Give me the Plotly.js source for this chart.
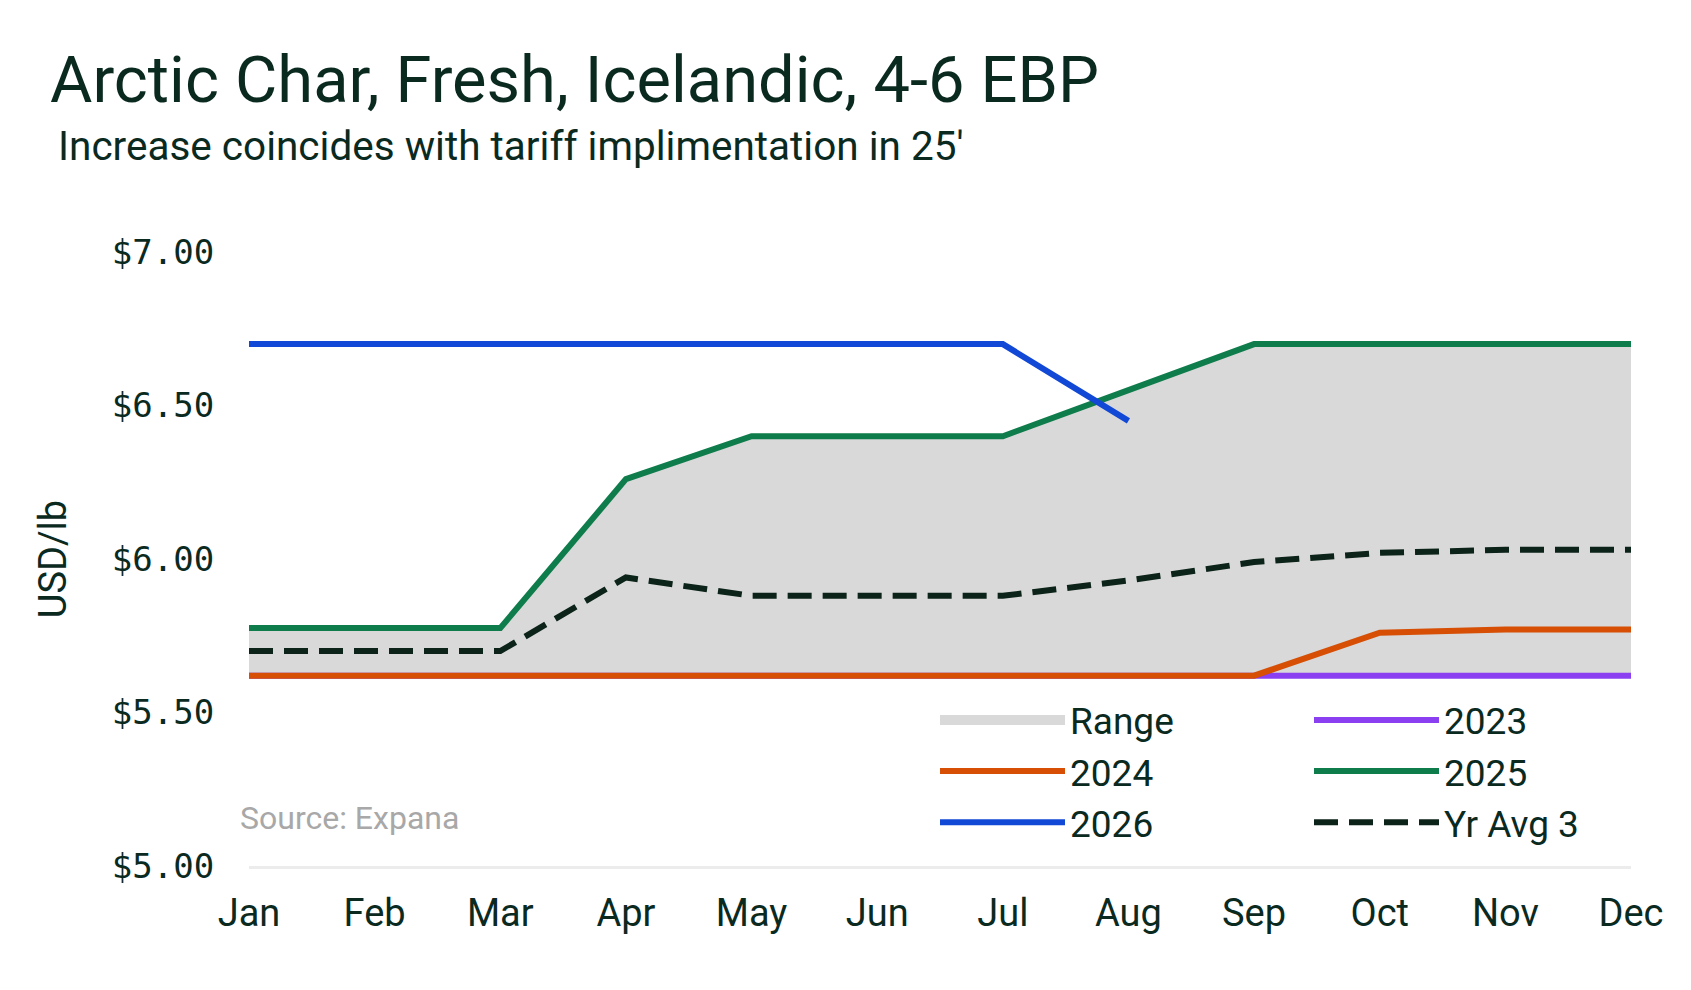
<!DOCTYPE html>
<html>
<head>
<meta charset="utf-8">
<script src="https://cdn.plot.ly/plotly-3.0.1.min.js"></script>
<style>
  html, body { margin: 0; padding: 0; background: #ffffff; }
  #chart { width: 1691px; height: 990px; }
</style>
</head>
<body>
<div id="chart"></div>
<script>
// ---- Data ----
const months = ['Jan','Feb','Mar','Apr','May','Jun','Jul','Aug','Sep','Oct','Nov','Dec'];

const rangeLow  = [5.62,5.62,5.62,5.62,5.62,5.62,5.62,5.62,5.62,5.62,5.62,5.62];
const rangeHigh = [5.775,5.775,5.775,6.26,6.40,6.40,6.40,6.55,6.70,6.70,6.70,6.70];

const y2023 = [5.62,5.62,5.62,5.62,5.62,5.62,5.62,5.62,5.62,5.62,5.62,5.62];
const y2024 = [5.62,5.62,5.62,5.62,5.62,5.62,5.62,5.62,5.62,5.76,5.77,5.77];
const y2025 = [5.775,5.775,5.775,6.26,6.40,6.40,6.40,6.55,6.70,6.70,6.70,6.70];
const y2026 = [6.70,6.70,6.70,6.70,6.70,6.70,6.70,6.45];
const avg3  = [5.70,5.70,5.70,5.94,5.88,5.88,5.88,5.93,5.99,6.02,6.03,6.03];

const yTicks = [5.0, 5.5, 6.0, 6.5, 7.0];
const yTickText = ['$5.00', '$5.50', '$6.00', '$6.50', '$7.00'];

// ---- Styles ----
const TXT = '#0b2a1f';
const FONT = 'Roboto, "Noto Sans", sans-serif';
const LW = 6;

const traces = [
  { x: months, y: rangeLow, mode: 'lines', line: {width: 0, color: 'rgba(0,0,0,0)'},
    showlegend: false, hoverinfo: 'skip', name: 'rangeLow' },
  { x: months, y: rangeHigh, mode: 'lines', fill: 'tonexty', fillcolor: '#d9d9d9',
    line: {width: 0, color: '#d9d9d9'}, name: 'Range band', showlegend: false },
  // legend swatch for the range band
  { x: [null], y: [null], mode: 'lines', name: 'Range', legend: 'legend',
    line: {color: '#d9d9d9', width: 10} },
  { x: months, y: y2023, mode: 'lines', name: '2023', legend: 'legend2', line: {color: '#8a3ff0', width: LW} },
  { x: months, y: y2024, mode: 'lines', name: '2024', legend: 'legend', line: {color: '#d64f05', width: LW} },
  { x: months, y: y2025, mode: 'lines', name: '2025', legend: 'legend2', line: {color: '#0f7c4b', width: LW} },
  { x: months.slice(0, y2026.length), y: y2026, mode: 'lines', name: '2026', legend: 'legend', line: {color: '#1248d6', width: LW} },
  { x: months, y: avg3, mode: 'lines', name: 'Yr Avg 3', legend: 'legend2', line: {color: '#0b2318', width: LW, dash: '24px,11px'} }
];

const legendBase = {
  orientation: 'v',
  xanchor: 'left',
  y: 0.2875, yanchor: 'top',
  itemwidth: 125,
  font: {family: FONT, size: 37, color: TXT},
  bgcolor: 'rgba(0,0,0,0)',
  borderwidth: 0,
  traceorder: 'normal'
};

const layout = {
  width: 1691, height: 990,
  paper_bgcolor: '#ffffff', plot_bgcolor: '#ffffff',
  margin: {l: 249, r: 60, t: 252, b: 124, pad: 0},
  font: {family: FONT, color: TXT},
  title: {
    text: 'Arctic Char, Fresh, Icelandic, 4-6 EBP',
    font: {family: FONT, size: 65, color: TXT},
    x: 50/1691, xanchor: 'left', xref: 'container',
    y: 1 - 79/990, yanchor: 'middle', yref: 'container'
  },
  xaxis: {
    type: 'category',
    showgrid: false, zeroline: false,
    showline: true, linecolor: '#ececec', linewidth: 3,
    ticks: 'outside', ticklen: 11, tickcolor: 'rgba(0,0,0,0)',
    tickfont: {family: FONT, size: 38, color: TXT},
    range: [0, 11], fixedrange: true
  },
  yaxis: {
    range: [5, 7],
    tickvals: yTicks, ticktext: yTickText,
    showgrid: false, zeroline: false, showline: false,
    ticks: 'outside', ticklen: 27, tickcolor: 'rgba(0,0,0,0)',
    tickfont: {family: '"DejaVu Sans Mono", monospace', size: 34, color: TXT},
    title: {text: 'USD/lb', font: {family: FONT, size: 38, color: TXT}, standoff: 33},
    fixedrange: true
  },
  legend:  Object.assign({}, legendBase, {x: (940 - 5 - 249) / 1382}),
  legend2: Object.assign({}, legendBase, {x: (1314 - 5 - 249) / 1382}),
  annotations: [
    { text: "Increase coincides with tariff implimentation in 25'",
      xref: 'paper', yref: 'paper',
      x: (56-249)/1382, xanchor: 'left',
      y: 1 + (252-146)/614, yanchor: 'middle',
      showarrow: false, font: {family: FONT, size: 40.5, color: TXT} },
    { text: 'Source: Expana',
      xref: 'paper', yref: 'paper',
      x: (238-249)/1382, xanchor: 'left',
      y: (866-818)/614, yanchor: 'middle',
      showarrow: false, font: {family: FONT, size: 32, color: '#a8a8a8'} }
  ],
  showlegend: true,
  hovermode: false
};

Plotly.newPlot('chart', traces, layout, {displayModeBar: false, staticPlot: true});
</script>
</body>
</html>
